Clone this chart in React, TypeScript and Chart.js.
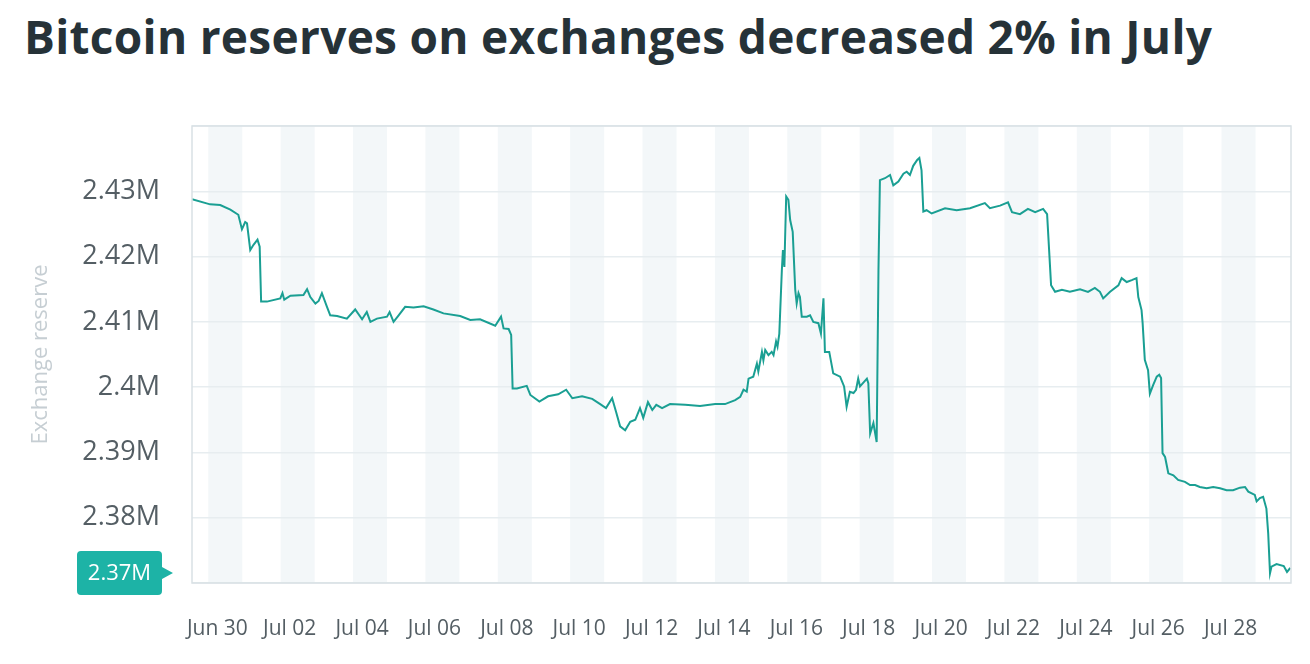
import React, { useEffect, useRef } from "react";
import { Chart, registerables } from "chart.js";

Chart.register(...registerables);

const titleText = "Bitcoin reserves on exchanges decreased 2% in July";
const yAxisTitle = "Exchange reserve";

// x tick labels, positioned by day index (0 = Jun 30)
const xTickDays = [0, 2, 4, 6, 8, 10, 12, 14, 16, 18, 20, 22, 24, 26, 28];
const xTickLabels = ["Jun 30", "Jul 02", "Jul 04", "Jul 06", "Jul 08", "Jul 10", "Jul 12", "Jul 14", "Jul 16", "Jul 18", "Jul 20", "Jul 22", "Jul 24", "Jul 26", "Jul 28"];
const yTicks = [2.37, 2.38, 2.39, 2.4, 2.41, 2.42, 2.43, 2.44];

// time in days since Jun 30 00:00
const reserveDays = [
  -0.45, 0.05, 0.33, 0.61, 0.83, 0.93, 1.02, 1.07, 1.16, 1.25, 1.36, 1.42, 1.46, 1.62, 1.99, 2.05, 2.1, 2.27, 2.63, 2.73,
  2.82, 2.96, 3.05, 3.14, 3.28, 3.37, 3.56, 3.83, 4.06, 4.25, 4.38, 4.48, 4.66, 4.94, 5.01, 5.12, 5.26, 5.44, 5.67, 5.95,
  6.22, 6.5, 6.96, 7.24, 7.51, 7.93, 8.09, 8.16, 8.3, 8.37, 8.41, 8.53, 8.8, 8.9, 9.15, 9.39, 9.67, 9.89, 10.06, 10.33,
  10.61, 10.83, 10.99, 11.16, 11.27, 11.38, 11.52, 11.66, 11.8, 11.93, 12.02, 12.15, 12.27, 12.38, 12.54, 12.76, 13.18, 13.59, 14.01, 14.28,
  14.56, 14.7, 14.79, 14.88, 14.93, 15.06, 15.16, 15.2, 15.3, 15.34, 15.39, 15.48, 15.57, 15.62, 15.69, 15.73, 15.78, 15.85, 15.88, 15.92,
  15.97, 16.03, 16.08, 16.15, 16.22, 16.26, 16.31, 16.35, 16.4, 16.54, 16.63, 16.72, 16.86, 16.93, 17.0, 17.04, 17.16, 17.27, 17.46, 17.57,
  17.64, 17.73, 17.83, 17.9, 17.96, 18.01, 18.2, 18.24, 18.29, 18.38, 18.47, 18.52, 18.56, 18.7, 18.84, 18.93, 19.07, 19.21, 19.3, 19.39,
  19.48, 19.59, 19.65, 19.71, 19.76, 19.85, 19.99, 20.36, 20.68, 21.05, 21.46, 21.6, 21.88, 22.1, 22.21, 22.43, 22.65, 22.85, 23.07, 23.18,
  23.29, 23.4, 23.59, 23.81, 24.09, 24.31, 24.5, 24.64, 24.73, 24.92, 25.15, 25.24, 25.38, 25.52, 25.65, 25.7, 25.79, 25.82, 25.88, 25.97,
  26.02, 26.11, 26.21, 26.28, 26.33, 26.37, 26.44, 26.53, 26.67, 26.8, 26.99, 27.13, 27.27, 27.4, 27.59, 27.77, 27.96, 28.14, 28.32, 28.51,
  28.65, 28.74, 28.92, 28.97, 29.06, 29.15, 29.24, 29.29, 29.34, 29.38, 29.52, 29.72, 29.81, 29.9,
];

// exchange reserve, millions of BTC
const reserveValuesM = [
  2.4288, 2.428, 2.4279, 2.4272, 2.4264, 2.4242, 2.4253, 2.4251, 2.421, 2.4218, 2.4226, 2.4215, 2.4131, 2.4131, 2.4136, 2.4144, 2.4134, 2.414, 2.4141, 2.415,
  2.4138, 2.4128, 2.4132, 2.4144, 2.4123, 2.411, 2.4109, 2.4105, 2.4119, 2.4104, 2.4115, 2.41, 2.4105, 2.4108, 2.4115, 2.41, 2.411, 2.4123, 2.4122, 2.4124,
  2.4119, 2.4113, 2.4109, 2.4103, 2.4104, 2.4094, 2.4108, 2.409, 2.4089, 2.408, 2.3998, 2.3998, 2.4002, 2.3988, 2.3978, 2.3986, 2.3989, 2.3996, 2.3983, 2.3986,
  2.3982, 2.3974, 2.3968, 2.3983, 2.3962, 2.394, 2.3934, 2.3947, 2.395, 2.3968, 2.3953, 2.3977, 2.3965, 2.3973, 2.3968, 2.3974, 2.3973, 2.3971, 2.3974, 2.3974,
  2.398, 2.3985, 2.3996, 2.3993, 2.4013, 2.4016, 2.4036, 2.4024, 2.4054, 2.4041, 2.4057, 2.4049, 2.4054, 2.4049, 2.407, 2.4062, 2.4082, 2.4179, 2.421, 2.4184,
  2.4292, 2.4287, 2.4256, 2.4238, 2.4149, 2.4128, 2.4144, 2.4138, 2.4108, 2.4108, 2.411, 2.41, 2.4098, 2.4082, 2.4136, 2.4054, 2.4054, 2.4021, 2.4016, 2.4001,
  2.397, 2.3993, 2.3991, 2.3996, 2.4013, 2.4001, 2.4013, 2.4006, 2.3929, 2.3945, 2.3916, 2.4179, 2.4317, 2.432, 2.4325, 2.4309, 2.4315, 2.4327, 2.433, 2.4325,
  2.4339, 2.4348, 2.4351, 2.4332, 2.4269, 2.4271, 2.4266, 2.4274, 2.4271, 2.4274, 2.4282, 2.4274, 2.4278, 2.4283, 2.4268, 2.4265, 2.4273, 2.4268, 2.4273, 2.4265,
  2.4156, 2.4146, 2.4149, 2.4146, 2.415, 2.4146, 2.4152, 2.4146, 2.4136, 2.4146, 2.4156, 2.4167, 2.4161, 2.4164, 2.4167, 2.4138, 2.4118, 2.4098, 2.4042, 2.4026,
  2.399, 2.4003, 2.4016, 2.4019, 2.4014, 2.3899, 2.3893, 2.3868, 2.3865, 2.3858, 2.3855, 2.385, 2.385, 2.3847, 2.3845, 2.3847, 2.3845, 2.3842, 2.3842, 2.3846,
  2.3847, 2.384, 2.3835, 2.3825, 2.383, 2.3832, 2.3814, 2.3776, 2.3715, 2.3725, 2.3729, 2.3726, 2.3717, 2.3723,
];

const FONT = '"Open Sans", "Noto Sans", sans-serif';
const TEAL = "#1a9f93";
const TAG = "#1db3a6";
const LABEL = "#545e64";

const fmtM = (v: number) => `${Number(v.toFixed(2))}M`;

const stripesPlugin = {
  id: "dayStripes",
  beforeDraw(chart: any) {
    const { ctx, chartArea, scales } = chart;
    const xs = scales.x;
    ctx.save();
    ctx.fillStyle = "#f3f7f9";
    for (const d of xTickDays) {
      const x0 = Math.max(xs.getPixelForValue(d), chartArea.left);
      const x1 = Math.min(xs.getPixelForValue(d + 0.94), chartArea.right);
      if (x1 > x0) ctx.fillRect(x0, chartArea.top, x1 - x0, chartArea.bottom - chartArea.top);
    }
    ctx.restore();
  },
  afterDatasetsDraw(chart: any) {
    const { ctx, chartArea } = chart;
    ctx.save();
    ctx.strokeStyle = "#d9e1e5";
    ctx.lineWidth = 1.5;
    ctx.strokeRect(chartArea.left, chartArea.top, chartArea.right - chartArea.left, chartArea.bottom - chartArea.top);
    ctx.restore();
  },
  afterDraw(chart: any) {
    const { ctx, chartArea, scales } = chart;
    const last = reserveValuesM[reserveValuesM.length - 1];
    const cy = scales.y.getPixelForValue(last) + 5;
    const right = chartArea.left - 30;
    const left = right - 85;
    const h = 44;
    const top = cy - h / 2;
    ctx.save();
    ctx.fillStyle = TAG;
    ctx.beginPath();
    const r = 4;
    ctx.moveTo(left + r, top);
    ctx.lineTo(right - r, top);
    ctx.quadraticCurveTo(right, top, right, top + r);
    ctx.lineTo(right, cy - 6);
    ctx.lineTo(right + 11, cy);
    ctx.lineTo(right, cy + 6);
    ctx.lineTo(right, top + h - r);
    ctx.quadraticCurveTo(right, top + h, right - r, top + h);
    ctx.lineTo(left + r, top + h);
    ctx.quadraticCurveTo(left, top + h, left, top + h - r);
    ctx.lineTo(left, top + r);
    ctx.quadraticCurveTo(left, top, left + r, top);
    ctx.closePath();
    ctx.fill();
    ctx.fillStyle = "#ffffff";
    ctx.font = `22px ${FONT}`;
    ctx.textAlign = "center";
    ctx.textBaseline = "middle";
    ctx.fillText(fmtM(last), (left + right) / 2, cy + 1);
    ctx.restore();
  },
};

export default function App() {
  const ref = useRef<HTMLCanvasElement | null>(null);

  useEffect(() => {
    if (!ref.current) return;
    const points = reserveDays.map((d, i) => ({ x: d, y: reserveValuesM[i] }));
    const chart = new Chart(ref.current, {
      type: "line",
      data: {
        datasets: [
          {
            data: points,
            borderColor: TEAL,
            borderWidth: 2,
            pointRadius: 0,
            tension: 0,
            fill: false,
          },
        ],
      },
      options: {
        animation: false,
        responsive: false,
        events: [],
        layout: { padding: { top: 126, right: 19, left: 0, bottom: 0 } },
        plugins: { legend: { display: false }, tooltip: { enabled: false }, title: { display: false } },
        scales: {
          x: {
            type: "linear",
            min: -0.45,
            max: 29.92,
            afterBuildTicks: (s: any) => {
              s.ticks = xTickDays.map((d) => ({ value: d + 0.25 }));
            },
            afterFit: (s: any) => {
              s.height = 81;
            },
            grid: { display: false, drawTicks: false },
            border: { display: false },
            ticks: {
              autoSkip: false,
              maxRotation: 0,
              padding: 33,
              color: LABEL,
              font: { family: FONT, size: 21 },
              callback: (v: any, i: number) => xTickLabels[i] ?? "",
            },
          },
          y: {
            min: 2.37,
            max: 2.44,
            afterBuildTicks: (s: any) => {
              s.ticks = yTicks.map((v) => ({ value: v }));
            },
            afterFit: (s: any) => {
              s.width = 192;
            },
            grid: { color: "#e7edf0", lineWidth: 1.5, drawTicks: false },
            border: { display: false },
            ticks: {
              padding: 32,
              color: LABEL,
              font: { family: FONT, size: 27 },
              callback: (v: any) => (v <= 2.37 + 1e-9 || v >= 2.44 - 1e-9 ? "" : fmtM(v)),
            },
            title: {
              display: true,
              text: yAxisTitle,
              color: "#c6ced3",
              font: { family: FONT, size: 22 },
              padding: { top: 28, bottom: 0 },
            },
          },
        },
      },
      plugins: [stripesPlugin],
    } as any);
    return () => chart.destroy();
  }, []);

  return (
    <div style={{ position: "absolute", left: 0, top: 0, width: 1310, height: 664, background: "#ffffff", overflow: "hidden" }}>
      <div
        style={{
          position: "absolute",
          left: 24,
          top: 13,
          font: `700 46px ${FONT}`,
          lineHeight: 1,
          color: "#263238",
          whiteSpace: "nowrap",
          letterSpacing: "0.3px",
        }}
      >
        {titleText}
      </div>
      <canvas ref={ref} width={1310} height={664} style={{ position: "absolute", left: 0, top: 0 }} />
    </div>
  );
}
